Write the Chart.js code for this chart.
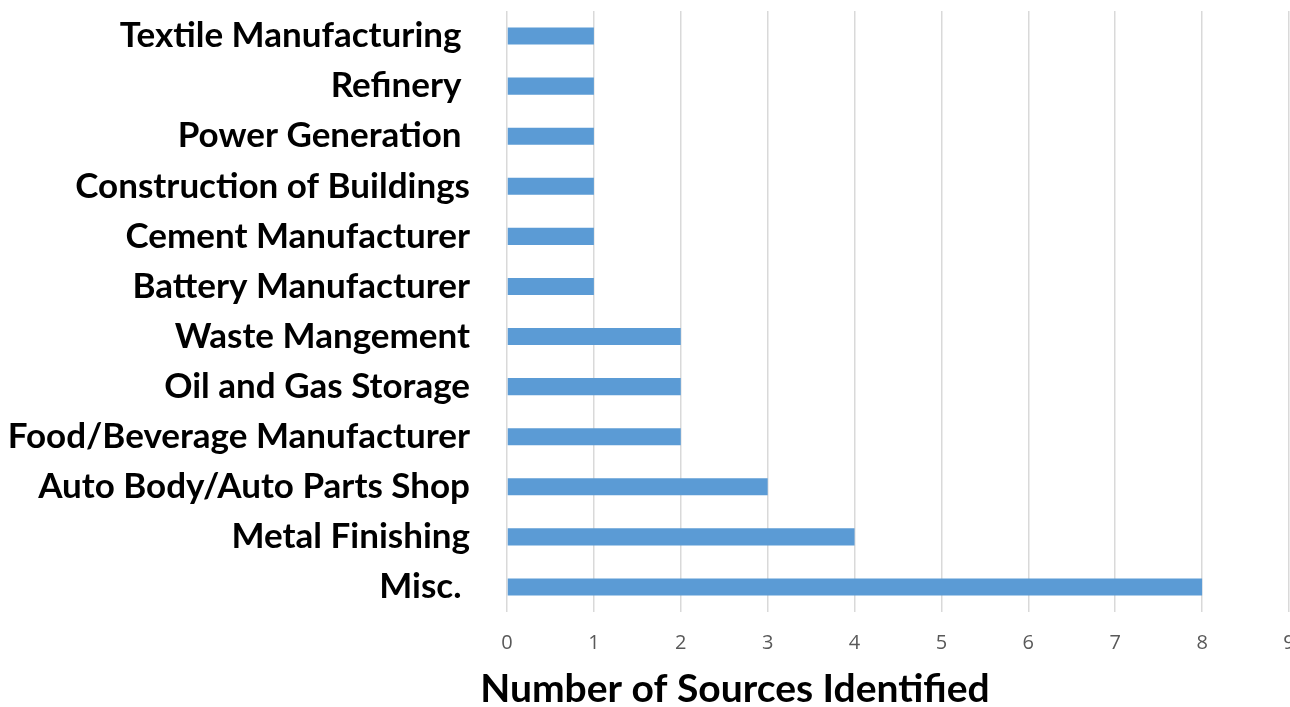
<!DOCTYPE html>
<html>
<head>
<meta charset="utf-8">
<script src="https://cdn.jsdelivr.net/npm/chart.js@4"></script>
<style>
  html, body { margin: 0; padding: 0; background: #fff; overflow: hidden; }
  #wrap { position: relative; width: 1290px; height: 707px; }
</style>
</head>
<body>
<div id="wrap"><canvas id="chart"></canvas></div>
<script>
const categories = [
  "Textile Manufacturing ", "Refinery ", "Power Generation ",
  "Construction of Buildings", "Cement Manufacturer", "Battery Manufacturer",
  "Waste Mangement", "Oil and Gas Storage", "Food/Beverage Manufacturer",
  "Auto Body/Auto Parts Shop", "Metal Finishing", "Misc. "
];
const sourceCounts = [1, 1, 1, 1, 1, 1, 2, 2, 2, 3, 4, 8];
const xTicks = [0, 1, 2, 3, 4, 5, 6, 7, 8, 9];
const xTitle = "Number of Sources Identified";

// axis title sits left of the plot centre, as in the original
const xTitlePlugin = {
  id: "xTitle",
  afterDraw(chart) {
    const c = chart.ctx;
    c.save();
    c.font = "bold 39px Lato";
    c.fillStyle = "#000";
    c.textAlign = "center";
    c.textBaseline = "middle";
    c.fillText(xTitle, 735, 689);
    c.restore();
  },
};

const ctx = document.getElementById("chart");
new Chart(ctx, {
  type: "bar",
  data: {
    labels: categories,
    datasets: [{
      data: sourceCounts,
      backgroundColor: "#5B9BD5",
      barPercentage: 0.68,
      categoryPercentage: 0.5,
    }],
  },
  options: {
    indexAxis: "y",
    responsive: true,
    maintainAspectRatio: false,
    animation: false,
    layout: { padding: { top: 11, bottom: 33, left: 0, right: 1 } },
    plugins: { legend: { display: false }, tooltip: { enabled: false } },
    scales: {
      x: {
        min: 0,
        max: 9,
        afterBuildTicks: (scale) => {
          scale.ticks = xTicks.map((v) => ({ value: v }));
        },
        afterFit: (scale) => {
          scale.paddingLeft = 0;
          scale.paddingRight = 0;
        },
        grid: { color: "#d9d9d9", lineWidth: 1.5, drawTicks: false },
        border: { display: false },
        ticks: {
          padding: 19,
          color: "#595959",
          font: { family: "Open Sans", size: 20 },
        },
      },
      y: {
        grid: { display: false, drawTicks: false },
        border: { display: false },
        afterFit: (scale) => {
          scale.width = 507;
          scale.paddingTop = 0;
          scale.paddingBottom = 0;
        },
        ticks: {
          padding: 37,
          color: "#000",
          font: { family: "Lato", size: 35, weight: "bold" },
        },
      },
    },
  },
  plugins: [xTitlePlugin],
});
</script>
</body>
</html>
